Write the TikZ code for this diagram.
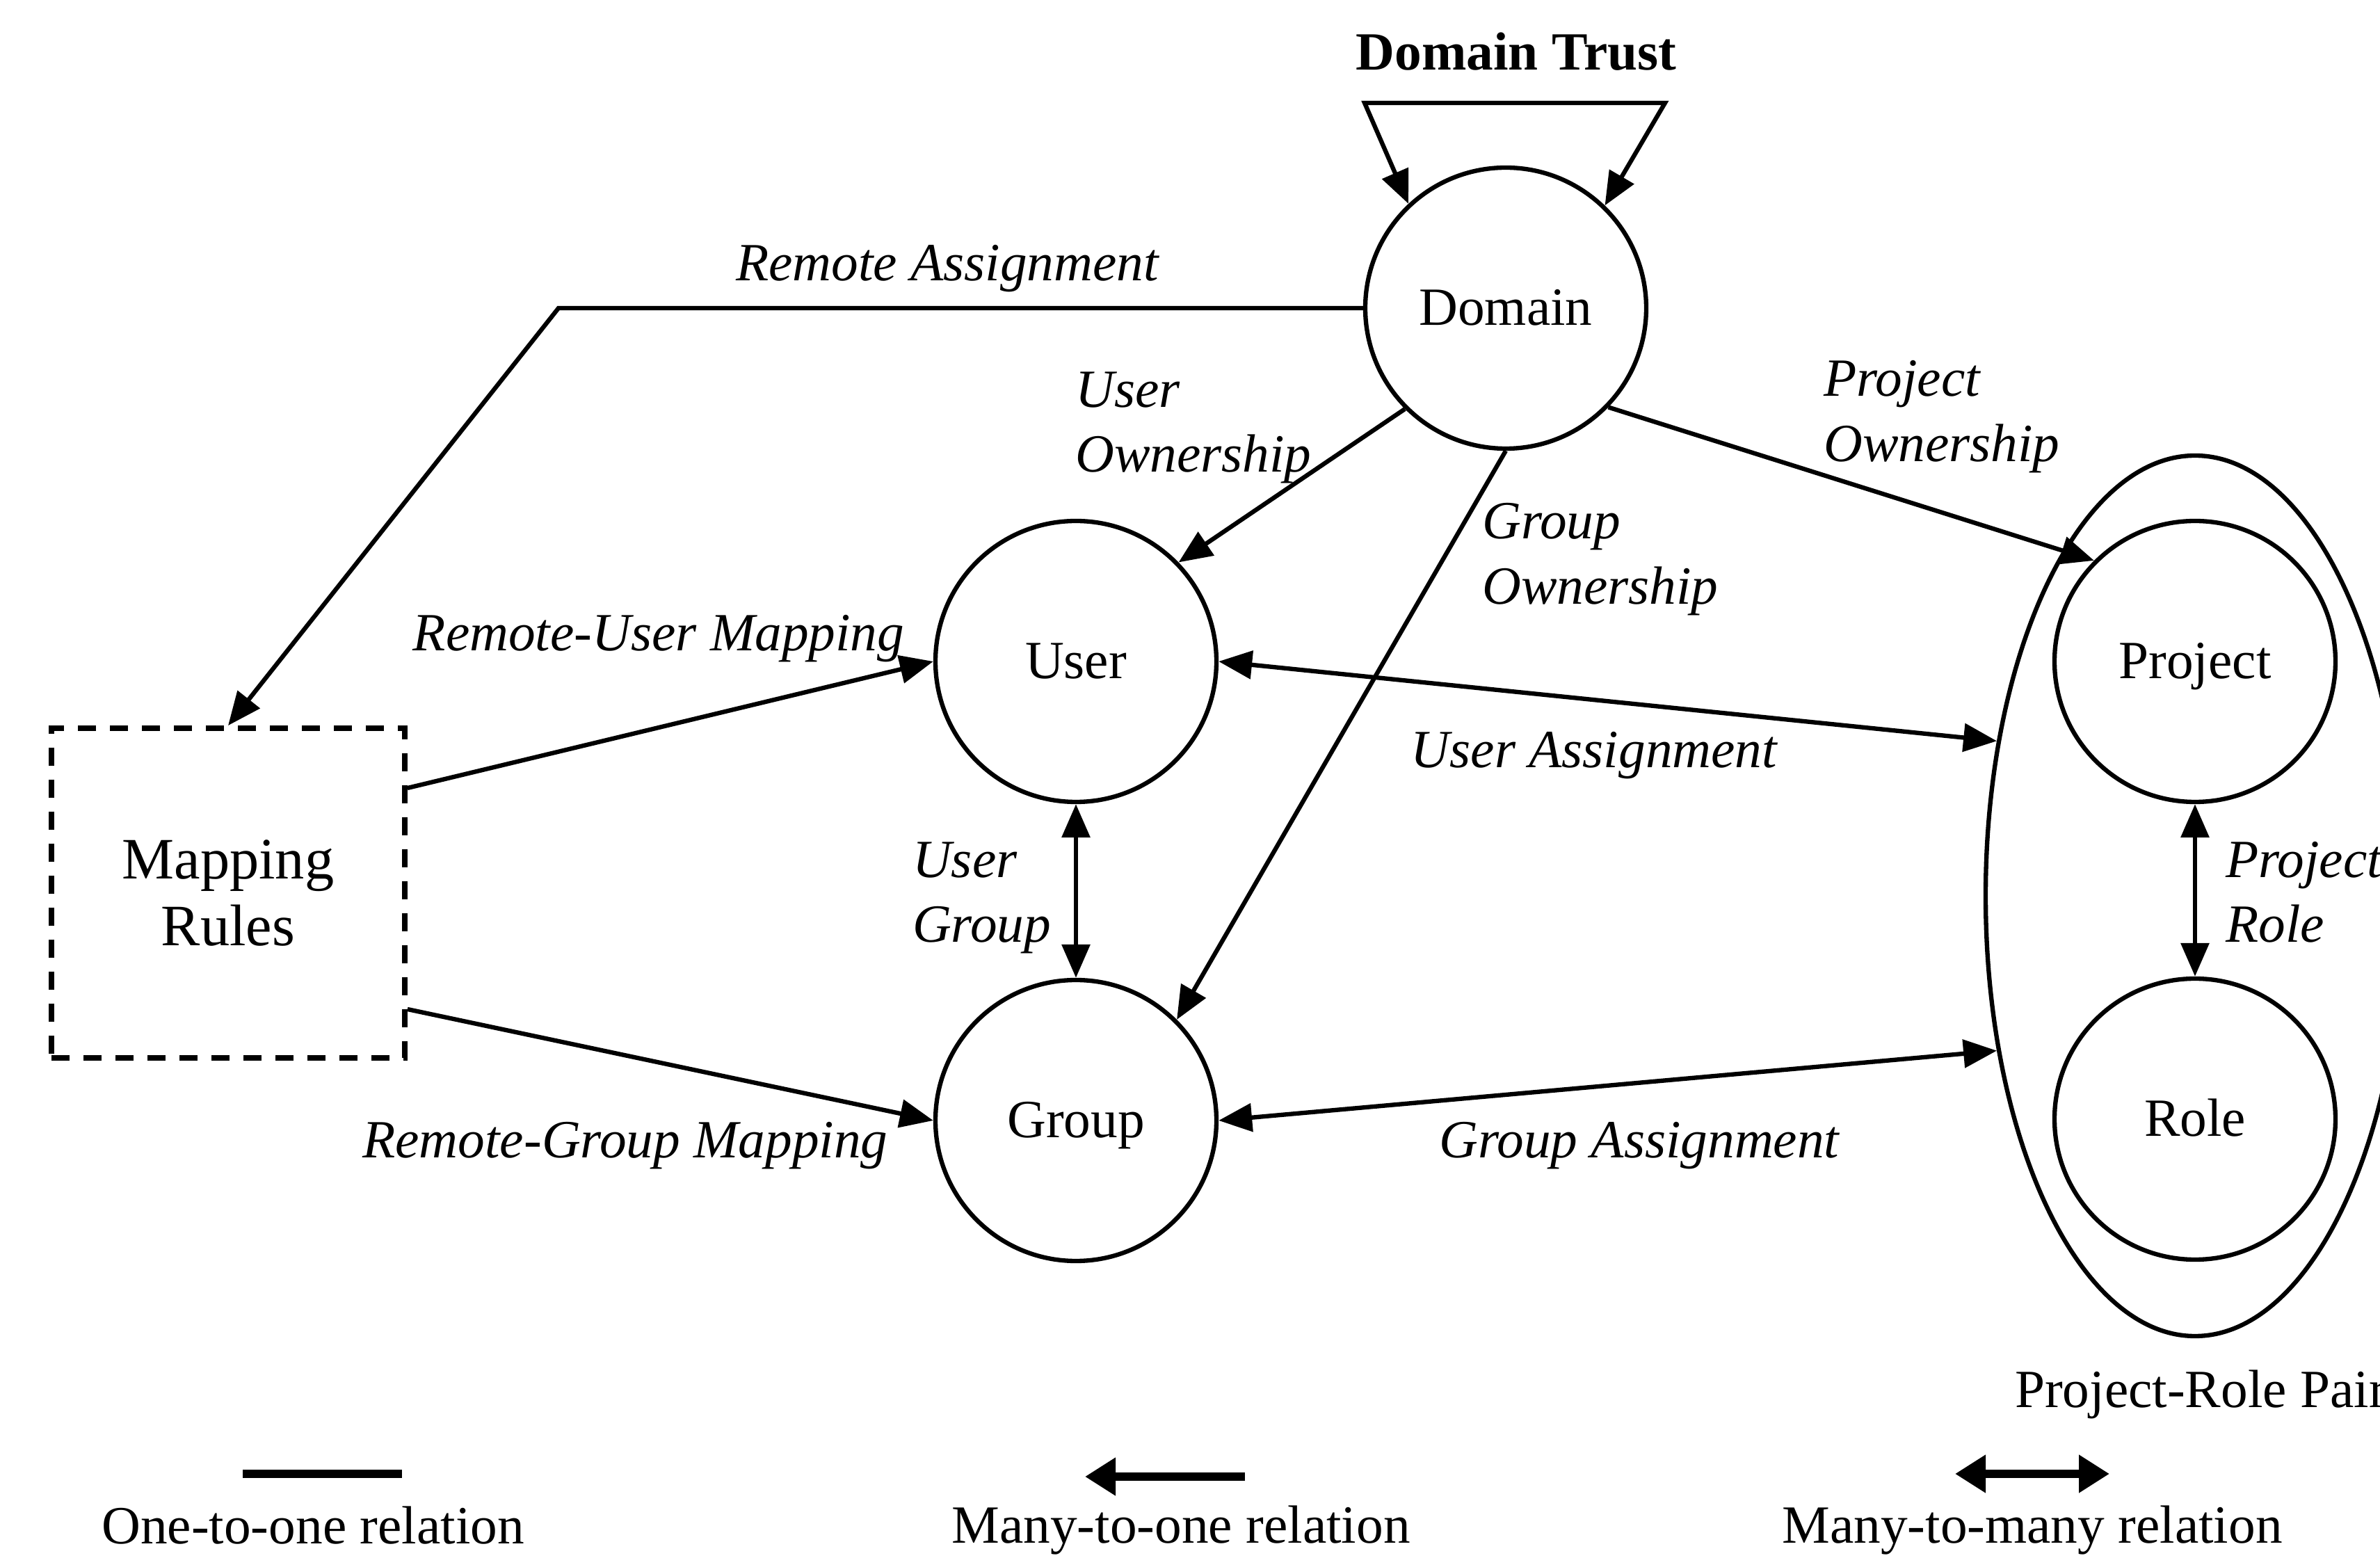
\documentclass[tikz,border=0pt]{standalone}
\usepackage{fontspec}
\setmainfont{Liberation Serif}
\usetikzlibrary{arrows.meta}
\usetikzlibrary{shapes.geometric}

\begin{document}
\begin{tikzpicture}[x=0.5cm, y=0.5cm, line width=0.9pt,
  ent/.style={circle, draw, minimum size=2.02cm, inner sep=0pt, text height=1.5ex, text depth=0pt, font=\fontsize{11}{13}\selectfont},
  lab/.style={font=\fontsize{11}{13.3}\selectfont\itshape, align=left, inner sep=0pt},
  txt/.style={font=\fontsize{11}{13}\selectfont, inner sep=0pt},
  tip/.style={-{Triangle[length=2.4mm,width=2mm]}},
  both/.style={{Triangle[length=2.4mm,width=2mm]}-{Triangle[length=2.4mm,width=2mm]}},
  key/.style={line width=1.8pt}]
\useasboundingbox (0,0) rectangle (34.22,22.39);

\node[ellipse, draw, minimum width=3.01cm, minimum height=6.33cm, inner sep=0pt] (pair) at (31.56,9.51) {};
\node[ent] (domain) at (21.65,17.96) {Domain};
\node[ent] (user) at (15.47,12.88) {User};
\node[ent] (group) at (15.47,6.28) {Group};
\node[ent] (project) at (31.56,12.88) {Project};
\node[ent] (role) at (31.56,6.30) {Role};
\node[draw, line width=1.1pt, dash pattern=on 1.3mm off 1mm, minimum width=2.54cm, minimum height=2.37cm, align=center, font=\fontsize{12}{13.6}\selectfont] (rules) at (3.28,9.55) {Mapping\\Rules};

\node[txt, font=\fontsize{11}{13}\selectfont\bfseries] (trust) at (21.80,21.65) {Domain Trust};
\coordinate (tl) at (19.62,20.91);
\coordinate (tr) at (23.94,20.91);
\draw[both] (domain.133) -- (tl) -- (tr) -- (domain.46);

\coordinate (bend) at (8.03,17.96);
\draw[tip] (domain.west) -- (bend) -- (rules.north);
\node[lab] (ra) at (13.62,18.53) {Remote Assignment};

\draw[tip] (domain.225) -- (user.44);
\node[lab, anchor=west] (uo) at (15.43,16.24) {User\\Ownership};

\draw[tip] (domain.south) -- (group.45);
\node[lab, anchor=west] (go) at (21.28,14.35) {Group\\Ownership};

\draw[tip] (domain.-44) -- (project.135);
\node[lab, anchor=west] (po) at (26.19,16.40) {Project\\Ownership};

\draw[tip] ([yshift=0.755cm]rules.east) -- (user.west);
\node[lab] (rum) at (9.47,13.21) {Remote-User Mapping};

\draw[tip] ([yshift=-0.835cm]rules.east) -- (group.west);
\node[lab] (rgm) at (8.99,5.92) {Remote-Group Mapping};

\draw[both] (user.east) -- (pair.142);
\node[lab] (ua) at (22.92,11.53) {User Assignment};

\draw[both] (group.east) -- (pair.218);
\node[lab] (ga) at (23.57,5.92) {Group Assignment};

\draw[both] (user.south) -- (group.north);
\node[lab, anchor=west] (ug) at (13.09,9.48) {User\\Group};

\draw[both] (project.south) -- (role.north);
\node[lab, anchor=west] (pr) at (31.97,9.56) {Project\\Role};

\node[txt, anchor=west] (prp) at (28.94,2.34) {Project-Role Pair};

\coordinate (k1a) at (3.49,1.20);
\coordinate (k1b) at (5.78,1.20);
\draw[key] (k1a) -- (k1b);
\node[txt] (k1) at (4.50,0.46) {One-to-one relation};

\coordinate (k2a) at (17.90,1.16);
\coordinate (k2b) at (15.60,1.16);
\draw[key, -{Triangle[length=2.2mm,width=2.6mm]}] (k2a) -- (k2b);
\node[txt] (k2) at (16.98,0.39) {Many-to-one relation};

\coordinate (k3a) at (28.11,1.20);
\coordinate (k3b) at (30.33,1.20);
\draw[key, {Triangle[length=2.2mm,width=2.6mm]}-{Triangle[length=2.2mm,width=2.6mm]}] (k3a) -- (k3b);
\node[txt] (k3) at (29.22,0.39) {Many-to-many relation};
\end{tikzpicture}
\end{document}
